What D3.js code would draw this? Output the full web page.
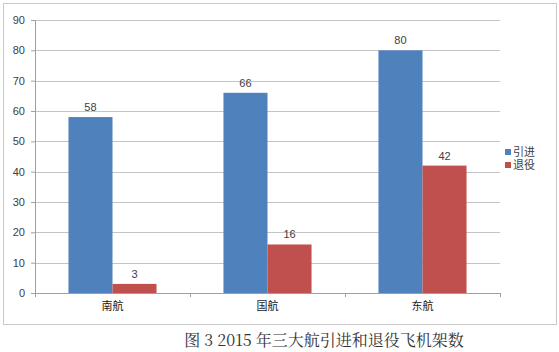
<!DOCTYPE html>
<html lang="zh">
<head>
    <meta charset="UTF-8">
    <title>三大航引进和退役飞机架数</title>
    <script src="https://d3js.org/d3.v7.min.js"></script>
    <style>
        html,
        body {
            margin: 0;
            height: 100%;
            overflow: hidden;
            background: #fff;
        }
    </style>
</head>
<body>
    <svg id="svg"></svg>
    <script>
        const airlines = ['南航', '国航', '东航'];
        const seriesNames = ['引进', '退役'];
        const introduced = [58, 66, 80];
        const retired = [3, 16, 42];
        const yTicks = [0, 10, 20, 30, 40, 50, 60, 70, 80, 90];
        const colors = ['#4F81BD', '#C0504D'];

        const width = 559, height = 352;
        const svg = d3.select('#svg').attr('width', width).attr('height', height);
        const margin = { top: 20, left: 35, bottom: 59, right: 59 };
        const innerWidth = width - margin.left - margin.right;
        const innerHeight = height - margin.top - margin.bottom;

        // chart frame
        svg.append('rect')
            .attr('x', 3.5).attr('y', 3.5)
            .attr('width', 553).attr('height', 321)
            .attr('fill', 'none').attr('stroke', '#c8c8c8');

        const g = svg.append('g').attr('transform', `translate(${margin.left}, ${margin.top})`);

        const x = d3.scaleBand().domain(airlines).range([0, innerWidth]).paddingInner(0).paddingOuter(0);
        const x1 = d3.scaleBand().domain(seriesNames).range([0, x.bandwidth()]).paddingInner(0).paddingOuter(0.76);
        const y = d3.scaleLinear().domain([0, 90]).range([innerHeight, 0]);

        // grid lines
        g.selectAll('.grid').data(yTicks.filter(d => d > 0)).join('line')
            .attr('class', 'grid')
            .attr('x1', 0).attr('x2', innerWidth)
            .attr('y1', d => Math.round(y(d)) + 0.5).attr('y2', d => Math.round(y(d)) + 0.5)
            .attr('stroke', '#c4c4c4');

        const rows = airlines.map((a, i) => ({ name: a, values: [introduced[i], retired[i]] }));

        const groups = g.selectAll('.grp').data(rows).join('g')
            .attr('transform', d => `translate(${x(d.name)},0)`);

        groups.selectAll('rect').data(d => d.values.map((v, k) => ({ s: seriesNames[k], v, k }))).join('rect')
            .attr('x', d => x1(d.s))
            .attr('y', d => y(d.v))
            .attr('width', x1.bandwidth())
            .attr('height', d => innerHeight - y(d.v))
            .attr('fill', d => colors[d.k]);

        groups.selectAll('text').data(d => d.values.map((v, k) => ({ s: seriesNames[k], v, k }))).join('text')
            .attr('x', d => x1(d.s) + x1.bandwidth() / 2)
            .attr('y', d => y(d.v) - 6)
            .attr('text-anchor', 'middle')
            .attr('font-family', 'Arial, "Liberation Sans", sans-serif')
            .attr('font-size', 11)
            .attr('fill', '#404040')
            .text(d => d.v);

        // y axis
        const yAxis = g.append('g')
            .call(d3.axisLeft(y).tickValues(yTicks).tickSize(4).tickPadding(6));
        yAxis.select('.domain').attr('stroke', '#a0a0a0');
        yAxis.selectAll('.tick line').attr('stroke', '#a0a0a0');
        yAxis.selectAll('text')
            .attr('font-family', 'Arial, "Liberation Sans", sans-serif')
            .attr('font-size', 11).attr('fill', '#404040');

        // x axis
        const xAxis = g.append('g').attr('transform', `translate(0,${innerHeight})`)
            .call(d3.axisBottom(x).tickSize(0).tickPadding(9));
        xAxis.select('.domain').attr('stroke', '#a0a0a0');
        xAxis.selectAll('text')
            .attr('font-family', '"Noto Sans CJK SC", sans-serif')
            .attr('font-size', 11).attr('fill', '#202020');
        g.selectAll('.xtick').data(d3.range(airlines.length + 1)).join('line')
            .attr('class', 'xtick')
            .attr('x1', i => i * x.bandwidth() + 0.5).attr('x2', i => i * x.bandwidth() + 0.5)
            .attr('y1', innerHeight).attr('y2', innerHeight + 4)
            .attr('stroke', '#a0a0a0');

        // legend
        const legend = svg.append('g').attr('transform', 'translate(505,147)');
        seriesNames.forEach((s, i) => {
            legend.append('rect').attr('x', 0).attr('y', i * 13 + 2).attr('width', 6).attr('height', 6).attr('fill', colors[i]);
            legend.append('text').attr('x', 8).attr('y', i * 13 + 9)
                .attr('font-family', '"Noto Sans CJK SC", sans-serif')
                .attr('font-size', 11).attr('fill', '#404040').text(s);
        });

        // caption
        svg.append('text')
            .attr('x', 324).attr('y', 346)
            .attr('text-anchor', 'middle')
            .attr('font-family', '"Noto Serif CJK SC", "Noto Sans CJK SC", serif')
            .attr('font-size', 16).attr('fill', '#333')
            .text('图 3 2015 年三大航引进和退役飞机架数');
    </script>
</body>
</html>
